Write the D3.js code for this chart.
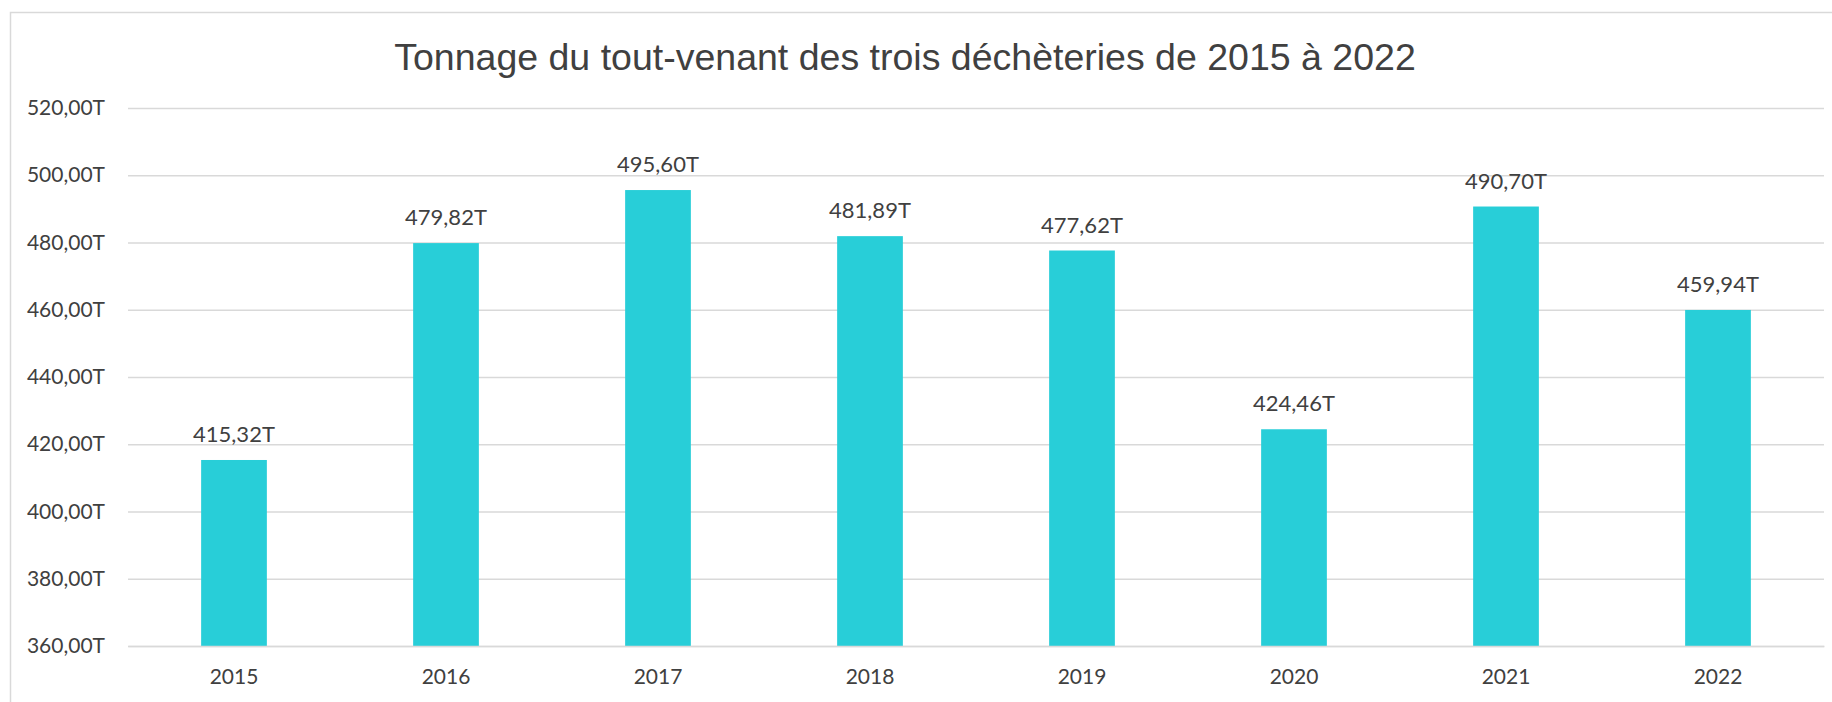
<!DOCTYPE html>
<html>
<head>
<meta charset="utf-8">
<script src="https://cdn.jsdelivr.net/npm/d3@7"></script>
<style>
  html, body { margin: 0; padding: 0; background: #fff; }
  svg { display: block; }
</style>
</head>
<body>
<svg id="chart"></svg>
<script>
// data
const years = ['2015', '2016', '2017', '2018', '2019', '2020', '2021', '2022'];
const tonnage = [415.32, 479.82, 495.60, 481.89, 477.62, 424.46, 490.70, 459.94];
const yTicks = [360, 380, 400, 420, 440, 460, 480, 500, 520];
const title = 'Tonnage du tout-venant des trois déchèteries de 2015 à 2022';

const width = 1832;
const height = 702;
const margin = { top: 108, right: 8, bottom: 56, left: 128 };

const fmt = (v) => d3.format('.2f')(v).replace('.', ',') + 'T';

const svg = d3.select('#chart')
  .attr('width', width)
  .attr('height', height);

// chart frame (only top/left visible in the crop)
svg.append('rect')
  .attr('x', 10.5)
  .attr('y', 12.5)
  .attr('width', width + 20)
  .attr('height', height + 20)
  .attr('fill', 'none')
  .attr('stroke', '#d9d9d9')
  .attr('stroke-width', 1.5);

const x = d3.scaleBand()
  .domain(years)
  .range([margin.left, width - margin.right])
  .paddingInner(0.69)
  .paddingOuter(0.345);

const y = d3.scaleLinear()
  .domain([360, 520])
  .range([height - margin.bottom, margin.top]);

// gridlines + y labels
const yAxis = svg.append('g')
  .attr('transform', `translate(${margin.left},0)`)
  .call(d3.axisLeft(y)
    .tickValues(yTicks)
    .tickSize(-(width - margin.left - margin.right))
    .tickPadding(23)
    .tickFormat(fmt));
yAxis.select('.domain').remove();
yAxis.selectAll('.tick line')
  .attr('stroke', '#d9d9d9')
  .attr('stroke-width', 1.5);
yAxis.selectAll('.tick text')
  .attr('fill', '#404040')
  .style('font-family', 'Lato, "Open Sans", sans-serif')
  .style('font-size', '21px');

// bars
svg.append('g')
  .selectAll('rect')
  .data(tonnage)
  .join('rect')
  .attr('x', (d, i) => x(years[i]))
  .attr('y', (d) => y(d))
  .attr('width', x.bandwidth())
  .attr('height', (d) => y(360) - y(d))
  .attr('fill', '#28ced8');

// value labels
svg.append('g')
  .selectAll('text')
  .data(tonnage)
  .join('text')
  .attr('x', (d, i) => x(years[i]) + x.bandwidth() / 2)
  .attr('y', (d) => y(d) - 18)
  .attr('text-anchor', 'middle')
  .attr('fill', '#404040')
  .style('font-family', 'Lato, "Open Sans", sans-serif')
  .style('font-size', '22px')
  .text((d) => fmt(d));

// x axis
const xAxis = svg.append('g')
  .attr('transform', `translate(0,${height - margin.bottom})`)
  .call(d3.axisBottom(x).tickSize(0).tickPadding(23));
xAxis.select('.domain').attr('stroke', '#d9d9d9').attr('stroke-width', 1.5);
xAxis.selectAll('.tick text')
  .attr('fill', '#404040')
  .style('font-family', 'Lato, "Open Sans", sans-serif')
  .style('font-size', '21px');

// title
svg.append('text')
  .attr('x', 905)
  .attr('y', 70)
  .attr('text-anchor', 'middle')
  .attr('fill', '#404040')
  .style('font-family', '"Liberation Sans", Arial, sans-serif')
  .style('font-size', '37.5px')
  .text(title);
</script>
</body>
</html>
